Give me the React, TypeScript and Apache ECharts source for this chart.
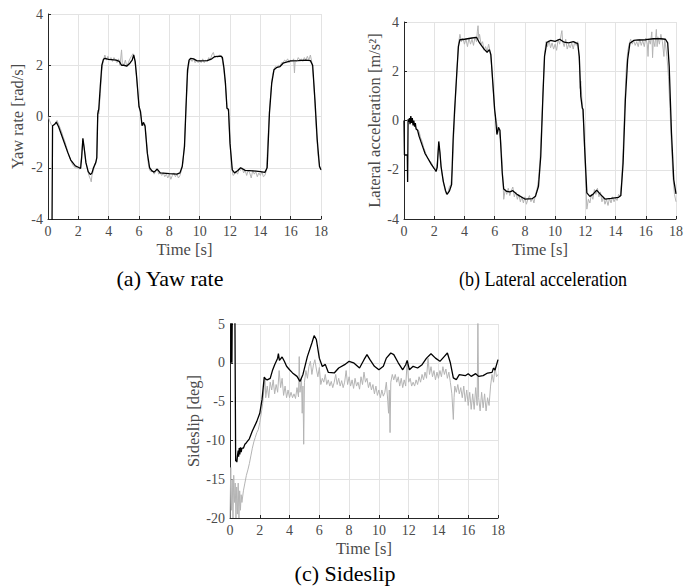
import React, { useEffect, useRef } from "react";
import * as echarts from "echarts";

type P = [number, number];

const xTicks = { min: 0, max: 18, interval: 2 };
const yawRange = { min: -4, max: 4, interval: 2 };
const latRange = { min: -4, max: 4, interval: 2 };
const slipRange = { min: -20, max: 5, interval: 5 };

const captions = ["(a) Yaw rate", "(b) Lateral acceleration", "(c) Sideslip"];
const yNames = ["Yaw rate [rad/s]", "Lateral acceleration [m/s\u00b2]", "Sideslip [deg]"];
const xName = "Time [s]";

const yawMeas: P[] = [[0,0],[0.1,-0.15],[0.2,-0.3],[0.3,-0.38],[0.4,-0.3],[0.5,-0.25],[0.6,-0.15],[0.7,-0.3],[0.8,-0.45],[0.9,-0.6],[1.0,-0.8],[1.1,-0.95],[1.2,-1.15],[1.3,-1.35],[1.4,-1.55],[1.5,-1.7],[1.6,-1.85],[1.7,-1.95],[1.8,-2.0],[1.9,-2.0],[2.0,-2.02],[2.1,-2.05],[2.2,-1.6],[2.3,-0.9],[2.4,-1.3],[2.5,-1.8],[2.6,-2.05],[2.7,-2.3],[2.8,-2.45],[2.85,-2.55],[2.9,-2.3],[3.0,-2.1],[3.1,-1.85],[3.2,-1.7],[3.25,-0.5],[3.3,0.25],[3.35,0.1],[3.45,0.9],[3.55,1.8],[3.65,2.2],[3.75,2.4],[3.85,2.2],[3.95,2.35],[4.05,2.2],[4.15,2.3],[4.25,2.15],[4.35,2.3],[4.45,2.2],[4.55,2.1],[4.65,2.25],[4.75,2.0],[4.85,2.6],[4.9,2.1],[5.0,2.0],[5.1,2.2],[5.2,1.95],[5.3,2.1],[5.4,2.25],[5.5,2.35],[5.6,2.45],[5.7,2.3],[5.8,1.8],[5.9,1.1],[6.0,0.4],[6.1,0.1],[6.2,-0.25],[6.3,-0.35],[6.4,-0.3],[6.5,-1.0],[6.6,-1.8],[6.7,-2.1],[6.8,-2.15],[6.9,-2.1],[7.0,-2.25],[7.1,-2.15],[7.2,-2.05],[7.3,-2.25],[7.4,-2.2],[7.5,-2.3],[7.6,-2.2],[7.7,-2.35],[7.8,-2.25],[7.9,-2.4],[8.0,-2.25],[8.1,-2.45],[8.2,-2.3],[8.3,-2.2],[8.4,-2.35],[8.5,-2.25],[8.6,-2.4],[8.7,-2.3],[8.8,-2.1],[8.9,-1.8],[9.0,-1.0],[9.1,0.3],[9.2,1.6],[9.3,2.1],[9.4,2.25],[9.5,2.15],[9.6,2.25],[9.7,2.1],[9.8,2.2],[9.9,2.1],[10.0,2.2],[10.1,2.1],[10.2,2.25],[10.3,2.1],[10.4,2.2],[10.5,2.15],[10.6,2.3],[10.7,2.2],[10.8,2.4],[10.9,2.5],[11.0,2.3],[11.1,2.35],[11.2,2.3],[11.3,2.4],[11.4,2.35],[11.5,2.2],[11.6,1.8],[11.7,1.2],[11.75,0.8],[11.8,0.3],[11.9,0.2],[12.0,-1.0],[12.1,-1.9],[12.2,-2.3],[12.3,-2.25],[12.4,-2.15],[12.5,-2.25],[12.6,-2.05],[12.7,-2.1],[12.8,-2.0],[12.9,-2.2],[13.0,-2.1],[13.1,-2.3],[13.2,-2.1],[13.3,-2.2],[13.4,-2.4],[13.5,-2.1],[13.6,-2.25],[13.7,-2.15],[13.8,-2.35],[13.9,-2.2],[14.0,-2.3],[14.1,-2.15],[14.2,-2.35],[14.3,-2.3],[14.4,-2.1],[14.5,-0.9],[14.6,0.2],[14.7,1.0],[14.8,1.6],[14.9,1.85],[15.0,1.95],[15.1,1.9],[15.2,2.0],[15.3,1.95],[15.4,2.1],[15.5,2.1],[15.6,2.2],[15.7,2.15],[15.8,2.25],[15.9,2.1],[16.0,2.2],[16.1,2.15],[16.2,2.25],[16.25,1.7],[16.3,2.2],[16.4,2.15],[16.5,2.3],[16.6,2.2],[16.7,2.25],[16.8,2.15],[16.9,2.3],[17.0,2.2],[17.1,2.35],[17.2,2.2],[17.3,2.4],[17.4,2.1],[17.5,1.5],[17.6,0.5],[17.7,-0.6],[17.8,-1.5],[17.9,-1.9],[18.0,-2.1]];

const yawEst: P[] = [[0.25,-6],[0.3,-0.36],[0.45,-0.3],[0.55,-0.22],[0.7,-0.4],[1.0,-0.9],[1.3,-1.4],[1.5,-1.7],[1.8,-1.93],[2.0,-1.98],[2.15,-2.03],[2.22,-1.6],[2.3,-0.85],[2.38,-1.2],[2.5,-1.8],[2.65,-2.15],[2.8,-2.27],[2.9,-2.2],[3.0,-2.0],[3.15,-1.8],[3.22,-1.6],[3.28,0.1],[3.35,0.3],[3.45,1.2],[3.55,2.0],[3.65,2.22],[3.75,2.27],[4.0,2.23],[4.5,2.2],[4.7,2.15],[4.85,2.0],[5.0,2.0],[5.2,1.97],[5.4,2.08],[5.55,2.2],[5.65,2.4],[5.75,2.14],[5.85,1.5],[6.0,0.39],[6.1,0.19],[6.2,-0.36],[6.3,-0.23],[6.4,-0.38],[6.55,-1.43],[6.7,-2.0],[6.85,-2.12],[7.0,-2.17],[7.2,-2.05],[7.4,-2.2],[8.0,-2.23],[8.5,-2.25],[8.7,-2.2],[8.85,-1.95],[9.0,-1.17],[9.1,0.39],[9.2,1.82],[9.3,2.2],[9.4,2.27],[9.6,2.25],[9.8,2.18],[10.0,2.17],[10.5,2.18],[10.8,2.25],[11.0,2.34],[11.4,2.36],[11.5,2.3],[11.6,1.9],[11.7,1.3],[11.8,0.32],[11.9,0.28],[12.0,-1.04],[12.15,-2.08],[12.3,-2.2],[12.5,-2.12],[12.7,-2.0],[13.0,-2.1],[13.5,-2.12],[14.0,-2.15],[14.3,-2.18],[14.45,-2.0],[14.6,0.13],[14.75,1.3],[14.9,1.82],[15.1,1.92],[15.3,1.95],[15.5,2.08],[16.0,2.17],[16.5,2.18],[17.0,2.2],[17.3,2.18],[17.45,2.0],[17.6,0.65],[17.75,-0.9],[17.9,-1.95],[18.0,-2.08]];

const latMeas: P[] = [[0.3,0],[0.4,-0.1],[0.5,-0.05],[0.6,-0.15],[0.7,-0.2],[0.8,-0.3],[0.9,-0.35],[1.0,-0.45],[1.1,-0.7],[1.2,-0.85],[1.3,-1.1],[1.4,-1.25],[1.5,-1.45],[1.6,-1.55],[1.7,-1.65],[1.8,-1.7],[1.9,-1.85],[2.0,-1.95],[2.1,-2.0],[2.2,-1.7],[2.3,-0.9],[2.4,-1.5],[2.5,-2.1],[2.6,-2.5],[2.7,-2.8],[2.8,-3.0],[2.9,-2.95],[3.0,-2.7],[3.1,-2.6],[3.2,-2.0],[3.3,-0.5],[3.4,0.8],[3.5,2.0],[3.6,3.1],[3.7,3.5],[3.8,3.2],[3.9,3.35],[4.0,3.1],[4.1,3.3],[4.2,3.0],[4.3,3.35],[4.4,3.1],[4.5,3.3],[4.6,3.05],[4.7,3.4],[4.8,3.2],[4.85,3.6],[4.9,3.85],[4.95,3.3],[5.0,3.5],[5.1,3.1],[5.2,3.2],[5.3,2.85],[5.4,3.0],[5.5,2.8],[5.6,3.1],[5.7,2.8],[5.8,2.2],[5.9,1.3],[6.0,0.3],[6.1,0.0],[6.2,-0.3],[6.3,-0.5],[6.4,-0.8],[6.5,-1.8],[6.6,-3.2],[6.7,-2.8],[6.8,-3.0],[6.9,-2.75],[7.0,-3.05],[7.1,-2.85],[7.2,-2.7],[7.3,-3.1],[7.4,-2.9],[7.5,-3.2],[7.6,-3.0],[7.7,-3.3],[7.8,-3.1],[7.9,-3.35],[8.0,-3.1],[8.1,-3.4],[8.2,-3.2],[8.3,-3.05],[8.4,-3.3],[8.5,-3.15],[8.6,-3.35],[8.7,-3.0],[8.8,-2.8],[8.9,-2.4],[9.0,-1.6],[9.1,-0.3],[9.2,1.2],[9.3,2.7],[9.4,3.2],[9.5,3.0],[9.6,3.25],[9.7,2.95],[9.8,3.15],[9.9,2.9],[10.0,3.1],[10.1,2.85],[10.2,3.3],[10.3,3.1],[10.4,3.5],[10.45,3.65],[10.5,3.2],[10.6,3.0],[10.7,3.3],[10.8,2.9],[10.9,3.1],[11.0,2.95],[11.1,3.15],[11.2,2.9],[11.3,3.2],[11.4,3.05],[11.5,3.2],[11.6,2.4],[11.65,1.3],[11.7,1.6],[11.8,0.6],[11.9,-0.3],[12.0,-2.0],[12.1,-3.6],[12.2,-3.2],[12.3,-3.35],[12.4,-3.0],[12.5,-3.2],[12.6,-2.8],[12.7,-3.0],[12.8,-2.75],[12.9,-3.1],[13.0,-2.9],[13.1,-3.3],[13.2,-3.1],[13.3,-3.4],[13.4,-3.2],[13.5,-3.45],[13.6,-3.15],[13.7,-3.35],[13.8,-3.1],[13.9,-3.3],[14.0,-3.15],[14.1,-3.25],[14.2,-3.0],[14.3,-3.1],[14.4,-2.5],[14.5,-1.2],[14.6,0.5],[14.7,2.0],[14.8,2.8],[14.9,3.1],[15.0,3.3],[15.1,3.1],[15.2,3.25],[15.3,3.05],[15.4,3.2],[15.5,3.0],[15.6,3.3],[15.7,3.05],[15.8,3.25],[15.9,3.0],[16.0,3.35],[16.1,3.1],[16.15,2.6],[16.2,3.3],[16.3,3.1],[16.4,3.6],[16.45,2.55],[16.5,3.3],[16.6,3.0],[16.7,3.7],[16.75,3.0],[16.8,3.4],[16.9,3.1],[17.0,3.5],[17.1,3.2],[17.2,2.6],[17.25,3.3],[17.3,3.1],[17.4,2.6],[17.5,1.8],[17.6,0.5],[17.7,-1.0],[17.8,-2.3],[17.9,-3.0],[18.0,-3.3]];

const latEst: P[] = [[0,0],[0.03,-1.4],[0.22,-1.4],[0.24,-2.5],[0.27,0.05],[0.32,-0.05],[0.36,0.1],[0.4,-0.15],[0.45,0.18],[0.5,-0.1],[0.55,0.1],[0.6,-0.2],[0.65,0],[0.7,-0.25],[0.75,-0.1],[0.8,-0.35],[0.9,-0.4],[1.0,-0.64],[1.2,-1.0],[1.4,-1.35],[1.5,-1.45],[1.8,-1.77],[2.0,-1.95],[2.12,-2.07],[2.2,-1.9],[2.3,-0.85],[2.38,-1.3],[2.45,-1.86],[2.6,-2.47],[2.75,-2.85],[2.85,-3.0],[3.0,-2.87],[3.15,-2.6],[3.25,-0.78],[3.35,0.44],[3.5,2.0],[3.6,3.0],[3.7,3.28],[4.0,3.3],[4.5,3.35],[4.8,3.38],[5.0,3.15],[5.3,2.9],[5.5,2.77],[5.65,2.88],[5.75,2.67],[6.0,0.44],[6.05,0.17],[6.15,-0.57],[6.25,-0.28],[6.35,-0.4],[6.5,-2.13],[6.6,-2.78],[6.8,-2.88],[7.0,-2.9],[7.2,-2.85],[7.5,-3.01],[8.0,-3.19],[8.5,-3.17],[8.7,-3.08],[8.9,-2.67],[9.05,-1.45],[9.2,1.12],[9.3,2.6],[9.45,3.17],[9.7,3.25],[10.0,3.21],[10.3,3.3],[10.6,3.18],[10.9,3.15],[11.2,3.2],[11.5,3.12],[11.6,2.6],[11.7,0.98],[11.8,0.5],[11.85,0.45],[11.95,-1.05],[12.1,-2.94],[12.3,-3.08],[12.5,-3.0],[12.75,-2.83],[13.0,-3.0],[13.3,-3.19],[13.7,-3.16],[14.2,-3.12],[14.35,-3.05],[14.5,-1.72],[14.65,0.85],[14.8,2.47],[14.95,3.14],[15.2,3.25],[15.5,3.27],[16.0,3.28],[16.5,3.32],[17.0,3.32],[17.3,3.3],[17.45,3.15],[17.55,2.2],[17.7,-0.5],[17.85,-2.4],[18.0,-2.98]];

const slipMeas: P[] = [[0.0,-20],[0.05,-13.5],[0.1,-19],[0.15,-15],[0.2,-20],[0.25,-14.5],[0.3,-18],[0.35,-15.5],[0.4,-20],[0.45,-16],[0.5,-19.5],[0.55,-15.5],[0.6,-20],[0.65,-16.5],[0.7,-19],[0.75,-17],[0.8,-18],[0.9,-16.5],[1.0,-15.5],[1.1,-14.5],[1.2,-13.8],[1.3,-13],[1.4,-12],[1.5,-11],[1.6,-10.2],[1.7,-9.6],[1.8,-9.0],[1.9,-8.6],[2.0,-7.7],[2.1,-6.5],[2.2,-5.2],[2.3,-3.0],[2.35,-2.0],[2.4,-4.5],[2.5,-3.0],[2.6,-4.5],[2.7,-2.5],[2.8,-3.5],[2.9,-2.2],[3.0,-4.0],[3.1,-2.8],[3.2,-3.8],[3.3,-1.0],[3.4,-3.2],[3.5,-2.0],[3.6,-4.2],[3.7,-3.0],[3.8,-4.5],[3.9,-3.5],[4.0,-4.5],[4.1,-3.8],[4.2,-4.5],[4.3,-4.0],[4.4,-4.6],[4.5,-3.2],[4.6,-4.4],[4.65,0.8],[4.7,-3.8],[4.8,-2.0],[4.85,-6.5],[4.9,-3.0],[4.95,-10.5],[5.0,-2.5],[5.1,-1.0],[5.2,-2.0],[5.3,-0.5],[5.4,0.2],[5.5,-1.5],[5.6,-0.3],[5.7,0.4],[5.8,-0.8],[5.9,-1.8],[6.0,-0.6],[6.1,-2.8],[6.2,-2.0],[6.3,-2.5],[6.4,-1.5],[6.5,-2.8],[6.6,-2.2],[6.7,-3.0],[6.8,-2.4],[6.9,-3.2],[7.0,-2.5],[7.1,-1.5],[7.2,-2.8],[7.3,-2.0],[7.4,-3.0],[7.5,-2.3],[7.6,-3.2],[7.7,-2.5],[7.8,-1.0],[7.9,-2.8],[8.0,-1.8],[8.1,-3.0],[8.2,-2.2],[8.3,-3.3],[8.4,-2.0],[8.5,-3.0],[8.6,-2.5],[8.7,-3.4],[8.8,-1.8],[8.9,-2.8],[9.0,-1.2],[9.1,-2.5],[9.2,-2.0],[9.3,-3.2],[9.4,-2.5],[9.5,-3.5],[9.6,-2.8],[9.7,-4.0],[9.8,-3.0],[9.9,-4.2],[10.0,-3.5],[10.1,-4.5],[10.2,-3.5],[10.3,-4.3],[10.4,-3.8],[10.5,-2.5],[10.6,-5.0],[10.65,-6.5],[10.7,-3.5],[10.75,-9.0],[10.8,-2.5],[10.9,-1.5],[11.0,-2.2],[11.1,-1.5],[11.2,-2.5],[11.3,-1.8],[11.4,-3.0],[11.5,-2.0],[11.6,-3.2],[11.7,-2.2],[11.8,-3.0],[11.9,0.2],[12.0,-2.5],[12.1,-2.0],[12.2,-3.0],[12.3,-2.5],[12.4,-3.0],[12.5,-2.2],[12.6,-2.8],[12.7,-1.8],[12.8,-2.5],[12.9,-1.5],[13.0,-2.2],[13.1,-1.2],[13.2,-2.0],[13.3,0.6],[13.4,-1.5],[13.5,-0.5],[13.6,-1.8],[13.7,-1.0],[13.8,-2.2],[13.9,-1.2],[14.0,-2.0],[14.1,-1.0],[14.2,-1.8],[14.3,-0.5],[14.4,-1.5],[14.5,-0.8],[14.6,-2.0],[14.7,-1.2],[14.8,-2.5],[14.9,-4.0],[15.0,-7.3],[15.05,-4.5],[15.1,-3.0],[15.2,-3.8],[15.3,-2.8],[15.4,-4.0],[15.5,-3.2],[15.6,-4.5],[15.7,-3.0],[15.8,-5.0],[15.9,-3.5],[16.0,-5.5],[16.1,-3.8],[16.2,-6.0],[16.3,-4.0],[16.4,-6.0],[16.5,-3.2],[16.6,-5.5],[16.65,5.5],[16.7,-4.5],[16.8,-6.2],[16.9,-3.8],[17.0,-5.8],[17.1,-4.0],[17.2,-6.2],[17.3,-4.5],[17.4,-5.5],[17.5,-3.0],[17.6,-1.5],[17.7,-2.5],[17.8,-0.5],[17.9,-1.8],[18.0,-1.5]];

const slipEst: P[] = [[0.05,0],[0.07,6],[0.09,0],[0.11,6],[0.13,0],[0.15,6],[0.33,6],[0.38,-12.7],[0.42,-12.5],[0.46,-12.8],[0.5,-12.0],[0.55,-11.3],[0.58,-12.1],[0.62,-11.0],[0.66,-11.8],[0.7,-10.9],[0.75,-11.5],[0.8,-11.0],[0.9,-11.0],[1.0,-10.5],[1.1,-10.3],[1.3,-9.8],[1.5,-8.8],[1.8,-7.55],[2.0,-6.5],[2.15,-4.75],[2.3,-1.85],[2.4,-2.1],[2.5,-2.2],[2.7,-2.0],[2.85,-1.0],[3.0,-0.25],[3.2,0.6],[3.25,1.2],[3.32,0.3],[3.4,0.5],[3.5,0.75],[3.65,0.2],[3.8,-0.45],[4.0,-0.9],[4.2,-1.3],[4.5,-1.75],[4.7,-2.4],[4.9,-1.5],[5.2,0.83],[5.5,2.55],[5.65,3.5],[5.8,3.0],[6.0,0.6],[6.2,-0.47],[6.4,-0.2],[6.6,-1.23],[7.0,-1.31],[7.3,-0.67],[7.7,-0.24],[8.0,0.19],[8.3,0.0],[8.7,-0.67],[9.0,0.4],[9.2,1.05],[9.4,0.4],[9.7,-0.45],[10.0,-0.9],[10.3,-0.45],[10.5,0.6],[10.8,1.26],[11.0,1.05],[11.3,0.0],[11.6,-0.9],[11.8,-0.25],[11.9,0.3],[12.05,-0.9],[12.3,-0.45],[12.6,-0.67],[12.9,-0.24],[13.2,0.6],[13.5,1.17],[13.8,0.6],[14.1,0.19],[14.4,0.83],[14.6,1.26],[14.8,0.0],[15.0,-1.95],[15.2,-2.17],[15.4,-1.53],[15.8,-1.66],[16.0,-1.4],[16.2,-1.75],[16.5,-1.4],[16.7,-1.75],[17.0,-1.66],[17.3,-1.32],[17.6,-1.23],[17.7,-0.67],[17.8,-0.95],[18.0,0.4]];

const FONT = "'Liberation Serif', 'Times New Roman', serif";
const AXIS_DARK = "#262626";
const GRID_LIGHT = "#e3e3e3";
const TEXT_GRAY = "#4a4a4a";
const MEAS_COLOR = "#b4b4b4";

export default function App() {
  const ref = useRef<HTMLDivElement>(null);
  useEffect(() => {
    if (!ref.current) return;
    const chart = echarts.init(ref.current, undefined, { renderer: "svg" });
    const grids = [
      { left: 48, top: 14, width: 273, height: 205 },
      { left: 404, top: 22, width: 272, height: 197 },
      { left: 230, top: 324, width: 268, height: 194 },
    ];
    const ranges = [yawRange, latRange, slipRange];
    const nameGaps = [22, 18, 25];
    const common = {
      axisTick: { show: true, inside: true, length: 3, lineStyle: { color: AXIS_DARK } },
      splitLine: { show: true, lineStyle: { color: GRID_LIGHT, width: 1 } },
      nameTextStyle: { color: TEXT_GRAY, fontFamily: FONT, fontSize: 16.5 },
    };
    const xAxis = grids.map((_, i) => ({
      type: "value",
      gridIndex: i,
      ...xTicks,
      name: xName,
      nameLocation: "middle",
      nameGap: 22,
      ...common,
      axisLine: { show: true, onZero: false, lineStyle: { color: AXIS_DARK, width: 1 } },
      axisLabel: { color: TEXT_GRAY, fontFamily: FONT, fontSize: 14, margin: 5 },
    }));
    const yAxis = grids.map((_, i) => ({
      type: "value",
      gridIndex: i,
      ...ranges[i],
      name: yNames[i],
      nameLocation: "middle",
      nameGap: nameGaps[i],
      ...common,
      axisLine: { show: true, onZero: false, lineStyle: { color: AXIS_DARK, width: 1 } },
      axisLabel: { color: TEXT_GRAY, fontFamily: FONT, fontSize: 14, margin: 5 },
    }));
    const mk = (data: P[], i: number, meas: boolean) => ({
      type: "line",
      xAxisIndex: i,
      yAxisIndex: i,
      data,
      showSymbol: false,
      symbol: "none",
      clip: true,
      lineStyle: { color: meas ? MEAS_COLOR : "#000000", width: meas ? 1 : 1.3 },
      z: meas ? 2 : 3,
    });
    const cap = (text: string, x: number, y: number, sx: number) => ({
      type: "text",
      x,
      y,
      scaleX: sx,
      style: { text, fill: "#000", font: `22px ${FONT}`, textAlign: "center", textVerticalAlign: "middle" },
    });
    chart.setOption({
      animation: false,
      grid: grids,
      xAxis,
      yAxis,
      series: [
        mk(yawMeas, 0, true),
        mk(yawEst, 0, false),
        mk(latMeas, 1, true),
        mk(latEst, 1, false),
        mk(slipMeas, 2, true),
        mk(slipEst, 2, false),
      ],
      graphic: [
        cap(captions[0], 170, 278, 1),
        cap(captions[1], 543, 278, 0.82),
        cap(captions[2], 345, 573, 1),
      ],
    });
    return () => chart.dispose();
  }, []);
  return (
    <div
      ref={ref}
      style={{ position: "fixed", left: 0, top: 0, width: 692, height: 588, background: "#fff" }}
    />
  );
}
